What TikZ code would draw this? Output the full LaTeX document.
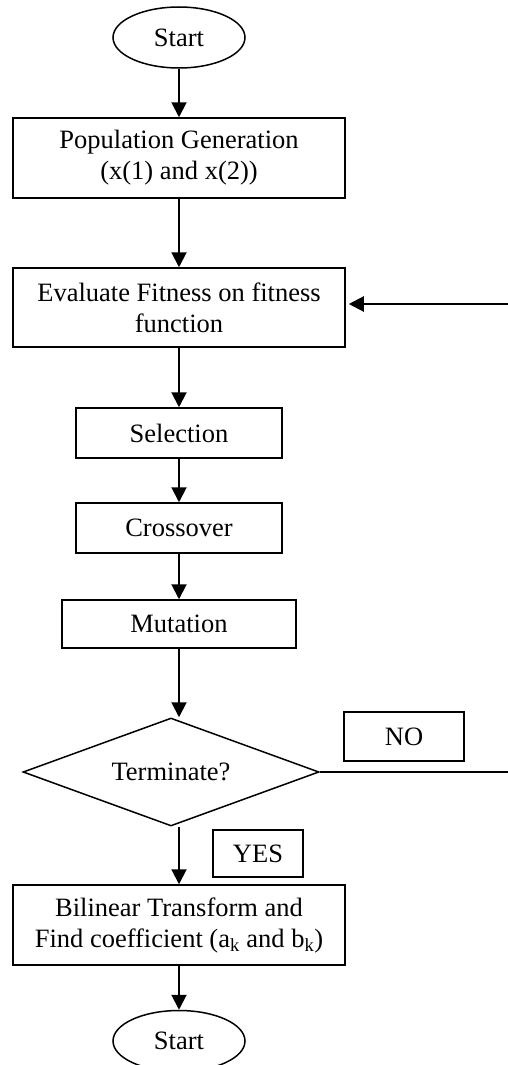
\documentclass[tikz,border=0pt]{standalone}
\usepackage{fontspec}
\setmainfont{Liberation Serif}
\usetikzlibrary{shapes.geometric,arrows.meta}
\begin{document}
\begin{tikzpicture}[x=1pt,y=-1pt,
  every node/.style={font=\fontsize{26.5}{31}\selectfont, inner sep=0pt, line width=1.5pt},
  proc/.style={draw, rectangle, align=center},
  term/.style={draw, ellipse, minimum width=132pt, minimum height=61pt},
  dec/.style={draw, diamond, aspect=2.74, minimum width=296pt, minimum height=108pt},
  lbl/.style={draw, rectangle},
  arr/.style={line width=2pt, -{Triangle[length=15pt,width=15pt]}},
  ln/.style={line width=1.3pt}]
\useasboundingbox (0,0) rectangle (508,1065);
\node[term] (start) at (179,37.5) {Start};
\node[proc, minimum width=332pt, minimum height=80pt] (pop) at (179,158) {Population Generation\\(x(1) and x(2))};
\node[proc, minimum width=332pt, minimum height=79pt] (eval) at (179,307.5) {Evaluate Fitness on fitness\\function};
\node[proc, minimum width=206pt, minimum height=50pt] (sel) at (179,433) {Selection};
\node[proc, minimum width=206pt, minimum height=50pt] (cross) at (179,528) {Crossover};
\node[proc, minimum width=234pt, minimum height=48pt] (mut) at (179,624) {Mutation};
\node[dec] (dia) at (171,772) {Terminate?};
\node[lbl, minimum width=120pt, minimum height=49pt] (no) at (404,736.5) {NO};
\node[lbl, minimum width=90pt, minimum height=47pt] (yes) at (258,853.5) {YES};
\node[proc, minimum width=332pt, minimum height=80pt] (bil) at (179,925) {Bilinear Transform and\\Find coefficient (a\textsubscript{k} and b\textsubscript{k})};
\node[term] (end) at (179,1041) {Start};
\coordinate (noend) at (508,772);
\coordinate (back) at (508,304);
\draw[arr] (start) -- (pop);
\draw[arr] (pop) -- (eval);
\draw[arr] (eval) -- (sel);
\draw[arr] (sel) -- (cross);
\draw[arr] (cross) -- (mut);
\draw[arr] (mut.south) -- (mut.south |- dia.north);
\draw[arr] (dia.south -| bil.north) -- (bil.north);
\draw[arr] (bil) -- (end);
\draw[ln] (dia.east) -- (noend);
\draw[arr] (back) -- ([xshift=3pt]eval.east |- back);
\end{tikzpicture}
\end{document}
